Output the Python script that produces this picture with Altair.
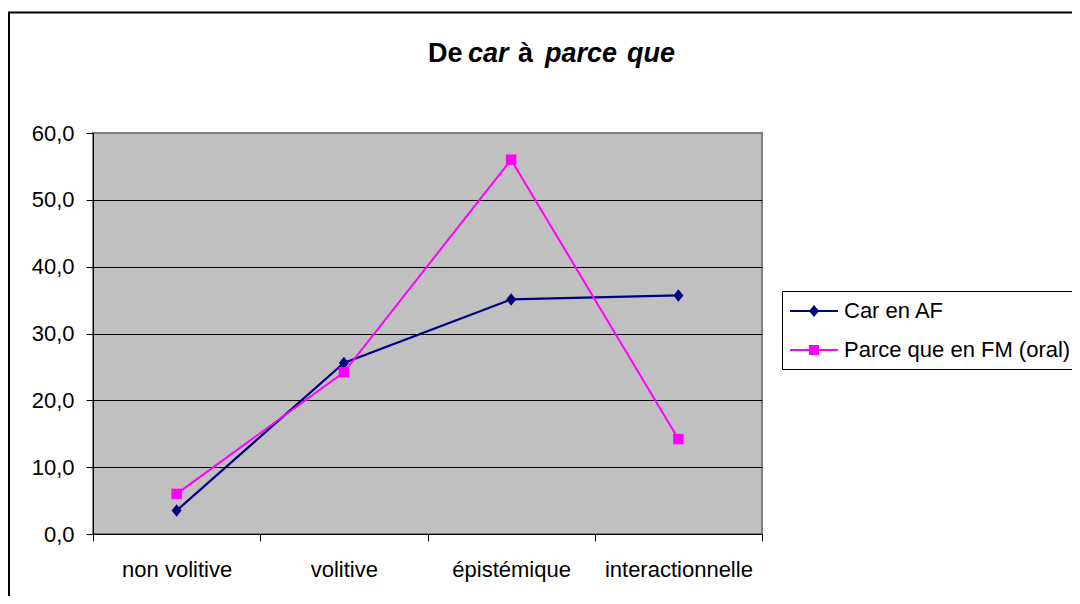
import altair as alt
import pandas as pd

categories = ["non volitive", "volitive", "épistémique", "interactionnelle"]
series_names = ["Car en AF", "Parce que en FM (oral)"]
car_values = [3.5, 25.6, 35.1, 35.7]
parce_values = [6.0, 24.2, 56.0, 14.2]
y_ticks = [0, 10, 20, 30, 40, 50, 60]
series_colors = ["#000080", "#FF00FF"]

FONT = "Arial, Liberation Sans, sans-serif"
W, H = 669, 401
PAD = {"left": 85, "top": 125, "right": 310, "bottom": 62}

df = pd.DataFrame({
    "cat": categories * 2,
    "series": [series_names[0]] * len(categories) + [series_names[1]] * len(categories),
    "value": car_values + parce_values,
})

x_enc = alt.X(
    "cat:N",
    sort=categories,
    scale=alt.Scale(type="band", domain=categories, paddingInner=0, paddingOuter=0),
    axis=alt.Axis(title=None, tickBand="extent", grid=False, domainColor="black",
                  tickColor="black", tickSize=7, labelFontSize=22, labelPadding=18,
                  labelColor="black", labelAngle=0, labelFont=FONT, domainWidth=1),
)
y_enc = alt.Y(
    "value:Q",
    scale=alt.Scale(domain=[0, 60], nice=False, zero=True),
    axis=alt.Axis(title=None, values=y_ticks,
                  labelExpr="replace(format(datum.value, '.1f'), '.', ',')",
                  grid=True,
                  gridColor={"condition": {"test": "datum.value === 60", "value": "#808080"}, "value": "black"},
                  gridWidth=1, domainColor="black", tickColor="black", tickSize=7,
                  labelFontSize=22, labelPadding=12, labelColor="black", labelFont=FONT),
)

base = alt.Chart(df)

car_line = base.transform_filter(alt.datum.series == series_names[0]).mark_line(
    color=series_colors[0], strokeWidth=2.2).encode(x=x_enc, y=y_enc)
parce_line = base.transform_filter(alt.datum.series == series_names[1]).mark_line(
    color=series_colors[1], strokeWidth=2).encode(x=x_enc, y=y_enc)

diamond_path = "M0,-1.25L1,0L0,1.25L-1,0Z"
car_pts = base.transform_filter(alt.datum.series == series_names[0]).mark_point(
    filled=True, opacity=1, color=series_colors[0], shape=diamond_path, size=100).encode(x=x_enc, y=y_enc)
parce_pts = base.transform_filter(alt.datum.series == series_names[1]).mark_point(
    filled=True, opacity=1, color=series_colors[1], shape="square", size=110).encode(x=x_enc, y=y_enc)

legend_car = "M-2,-0.09H2V0.09H-2Z M0,-0.5L0.42,0L0,0.5L-0.42,0Z"
legend_sq = "M-2,-0.09H2V0.09H-2Z M-0.42,-0.42H0.42V0.42H-0.42Z"

leg = dict(title=None, orient="none", legendX=689, legendY=158, padding=8,
           fillColor="white", strokeColor="black",
           labelFontSize=22, labelFont=FONT, labelColor="black", labelLimit=1000,
           symbolSize=576, symbolStrokeWidth=0, symbolOffset=12, labelOffset=18,
           rowPadding=16, symbolOpacity=1)

legend_layer = base.transform_filter("false").mark_point(filled=True, opacity=1).encode(
    x=x_enc, y=y_enc,
    color=alt.Color("series:N", scale=alt.Scale(domain=series_names, range=series_colors),
                    legend=alt.Legend(**leg)),
    shape=alt.Shape("series:N", scale=alt.Scale(domain=series_names, range=[legend_car, legend_sq]),
                    legend=alt.Legend(**leg)),
)

one = alt.Chart(pd.DataFrame({"k": [0]}))

frame_top = one.mark_rule(color="black", strokeWidth=2).encode(
    x=alt.value(-84), x2=alt.value(W + PAD["right"]), y=alt.value(-120.5))
frame_left = one.mark_rule(color="black", strokeWidth=2).encode(
    x=alt.value(-84), y=alt.value(-121.5), y2=alt.value(H + PAD["bottom"]))

title_parts = [("De", False, 335), ("car", True, 375), ("à", False, 425),
               ("parce", True, 452), ("que", True, 534)]
title_layers = []
for txt, ital, px in title_parts:
    title_layers.append(
        one.mark_text(text=txt, font=FONT, fontSize=27, fontWeight="bold",
                      fontStyle="italic" if ital else "normal", align="left",
                      baseline="alphabetic", color="black").encode(
            x=alt.value(px), y=alt.value(-71)))

chart = alt.layer(
    legend_layer, car_line, parce_line, car_pts, parce_pts,
    frame_top, frame_left, *title_layers,
).properties(
    width=W, height=H,
    autosize=alt.AutoSizeParams(type="none"),
    padding=PAD,
    background="white",
).configure_view(
    fill="#C0C0C0", stroke="#808080", strokeWidth=2,
).configure_axis(
    labelFont=FONT,
)

chart.save("out.html", embed_options={"renderer": "svg", "actions": False})
